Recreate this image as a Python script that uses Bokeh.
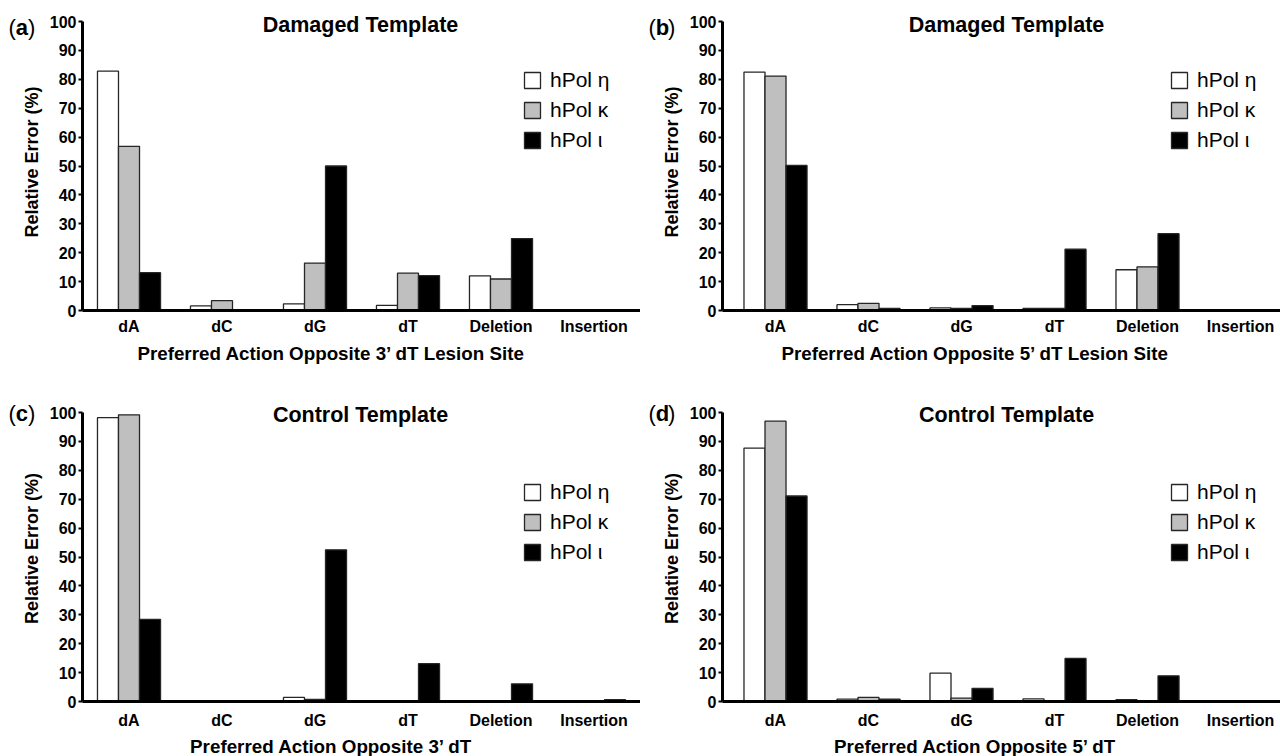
import math
import numpy as np
from bokeh.plotting import figure
from bokeh.models import (Range1d, FixedTicker, Label, Legend, LegendItem,
                          ColumnDataSource, LinearAxis)
from bokeh.layouts import gridplot
from bokeh.embed import file_html
from bokeh.resources import INLINE

# ---------------- data ----------------
categories = ["dA", "dC", "dG", "dT", "Deletion", "Insertion"]
series_names = ["hPol \u03b7", "hPol \u03ba", "hPol \u03b9"]
y_ticks = [0, 10, 20, 30, 40, 50, 60, 70, 80, 90, 100]

a_eta   = [82.8, 1.6, 2.3, 1.8, 12.0, 0.0]
a_kappa = [56.8, 3.4, 16.4, 12.9, 10.9, 0.0]
a_iota  = [13.1, 0.0, 50.0, 12.1, 24.9, 0.0]

b_eta   = [82.5, 2.0, 0.9, 0.7, 14.1, 0.0]
b_kappa = [81.1, 2.5, 0.7, 0.7, 15.1, 0.0]
b_iota  = [50.2, 0.7, 1.7, 21.2, 26.6, 0.0]

c_eta   = [98.2, 0.0, 1.4, 0.0, 0.0, 0.0]
c_kappa = [99.2, 0.0, 0.7, 0.0, 0.0, 0.0]
c_iota  = [28.4, 0.0, 52.5, 13.1, 6.1, 0.6]

d_eta   = [87.7, 0.8, 9.8, 0.9, 0.6, 0.0]
d_kappa = [97.0, 1.4, 1.2, 0.2, 0.2, 0.0]
d_iota  = [71.1, 0.8, 4.5, 14.9, 8.9, 0.0]

titles = ["Damaged Template", "Damaged Template", "Control Template", "Control Template"]
xtitles = ["Preferred Action Opposite 3\u2019 dT Lesion Site",
           "Preferred Action Opposite 5\u2019 dT Lesion Site",
           "Preferred Action Opposite 3\u2019 dT",
           "Preferred Action Opposite 5\u2019 dT"]
tags = ["a", "b", "c", "d"]
y_label = "Relative Error (%)"

# ---------------- styles ----------------
FONT = "Liberation Sans"
FILLS = ["#ffffff", "#bfbfbf", "#000000"]
PX_PER_CAT = 93.0
PX_PER_Y = 2.89
BAR_W = 0.226
OFFSETS = [-BAR_W, 0.0, BAR_W]
FIG_W = 640
AXIS_PX = 82


def make_panel(idx, eta, kappa, iota):
    top_row = idx < 2
    left_col = idx % 2 == 0
    axis_x = -0.5 if left_col else -0.57
    x_start = axis_x - AXIS_PX / PX_PER_CAT
    x_end = x_start + FIG_W / PX_PER_CAT
    if top_row:
        height, y0_px = 380, 310
    else:
        height, y0_px = 376, 321
    y_start = -(height - y0_px) / PX_PER_Y
    y_end = y0_px / PX_PER_Y

    def fx(px):
        return x_start + px / PX_PER_CAT

    def fy(py):
        return (y0_px - py) / PX_PER_Y

    p = figure(width=FIG_W, height=height, output_backend="svg", toolbar_location=None,
               x_range=Range1d(x_start, x_end), y_range=Range1d(y_start, y_end),
               x_axis_location=None, y_axis_location=None, min_border=0)
    p.outline_line_color = None
    p.grid.visible = False
    p.background_fill_color = "white"
    p.border_fill_color = "white"

    centers = np.arange(len(categories))
    renderers = []
    for k, vals in enumerate([eta, kappa, iota]):
        src = ColumnDataSource(dict(x=centers + OFFSETS[k], top=vals, cat=categories))
        r = p.vbar(x="x", top="top", bottom=0, width=BAR_W, source=src,
                   fill_color=FILLS[k], line_color="#262626", line_width=1.3)
        renderers.append(r)

    # x axis at y = 0
    xaxis = LinearAxis(fixed_location=0, bounds=(axis_x, x_end))
    xaxis.ticker = FixedTicker(ticks=list(centers))
    xaxis.major_label_overrides = {int(i): c for i, c in zip(centers, categories)}
    xaxis.major_tick_line_color = None
    xaxis.minor_tick_line_color = None
    xaxis.axis_line_width = 3
    xaxis.axis_line_color = "black"
    xaxis.major_label_text_font = FONT
    xaxis.major_label_text_font_style = "bold"
    xaxis.major_label_text_font_size = "16px"
    xaxis.major_label_text_color = "black"
    xaxis.major_label_standoff = 1 if top_row else 4
    p.add_layout(xaxis, "below")

    # y axis at the left of the bars
    yaxis = LinearAxis(fixed_location=axis_x, bounds=(0, 100))
    yaxis.ticker = FixedTicker(ticks=y_ticks)
    yaxis.minor_tick_line_color = None
    yaxis.major_tick_out = 4
    yaxis.major_tick_in = 0
    yaxis.major_tick_line_width = 2
    yaxis.major_tick_line_color = "black"
    yaxis.axis_line_width = 3
    yaxis.axis_line_color = "black"
    yaxis.major_label_text_font = FONT
    yaxis.major_label_text_font_style = "bold"
    yaxis.major_label_text_font_size = "16px"
    yaxis.major_label_text_color = "black"
    yaxis.major_label_standoff = 2
    p.add_layout(yaxis, "left")

    # y axis title
    p.add_layout(Label(x=fx(31), y=fy(161.5 if top_row else 168), text=y_label,
                       angle=math.pi / 2, text_align="center", text_baseline="middle",
                       text_font=FONT, text_font_style="bold", text_font_size="18px",
                       text_color="black"))

    # panel title
    t_px = 360 if left_col else 366
    p.add_layout(Label(x=fx(t_px), y=fy(24 if top_row else 34), text=titles[idx],
                       text_align="center", text_baseline="middle",
                       text_font=FONT, text_font_style="bold", text_font_size="21.5px",
                       text_color="black"))

    # x axis title
    xt_px = 331 if left_col else 335
    p.add_layout(Label(x=fx(xt_px), y=fy(353 if top_row else 366), text=xtitles[idx],
                       text_align="center", text_baseline="middle",
                       text_font=FONT, text_font_style="bold", text_font_size="18.8px",
                       text_color="black"))

    # panel tag "(a)"
    tag_y = fy(27 if top_row else 33)
    for txt, off, style in [("(", 0, "normal"), (tags[idx], 7.3, "bold"), (")", 19.6, "normal")]:
        p.add_layout(Label(x=fx(8), y=tag_y, x_offset=off, text=txt,
                           text_align="left", text_baseline="middle",
                           text_font=FONT, text_font_style=style, text_font_size="22px",
                           text_color="black"))

    # legend
    items = [LegendItem(label=series_names[k], renderers=[renderers[k]]) for k in range(3)]
    leg_x = 522 if left_col else 529
    leg_y = 228 if top_row else 192
    legend = Legend(items=items, location=(leg_x, leg_y), padding=0, margin=0,
                    spacing=6, glyph_width=20, glyph_height=20, label_height=20,
                    label_standoff=8, border_line_color=None, background_fill_alpha=0,
                    label_text_font=FONT, label_text_font_size="21px",
                    label_text_color="black")
    p.add_layout(legend)
    return p


pa = make_panel(0, a_eta, a_kappa, a_iota)
pb = make_panel(1, b_eta, b_kappa, b_iota)
pc = make_panel(2, c_eta, c_kappa, c_iota)
pd = make_panel(3, d_eta, d_kappa, d_iota)

grid = gridplot([[pa, pb], [pc, pd]], toolbar_location=None)

open("out.html", "w").write(file_html(grid, INLINE))
